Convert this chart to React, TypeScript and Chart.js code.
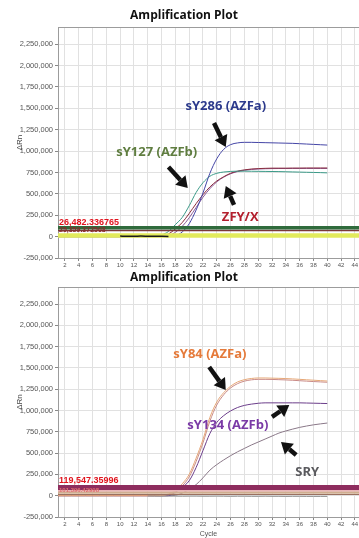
import React, { useEffect, useRef } from "react";
import { Chart, registerables } from "chart.js";

Chart.register(...registerables);

// ---------------- data ----------------
const cycles = [1, 2, 3, 4, 5, 6, 7, 8, 9, 10, 11, 12, 13, 14, 15, 16, 17, 18, 19, 20, 21, 22, 23, 24, 25, 26, 27, 28, 29, 30, 31, 32, 33, 34, 35, 36, 37, 38, 39, 40];
const xTickLabels = [2, 4, 6, 8, 10, 12, 14, 16, 18, 20, 22, 24, 26, 28, 30, 32, 34, 36, 38, 40, 42, 44];
const yTickLabels = [-250000, 0, 250000, 500000, 750000, 1000000, 1250000, 1500000, 1750000, 2000000, 2250000];
const xMin = 1;
const xMax = 44.6;
const yMin = -250000;
const yMax = 2450000;

// top plot (ΔRn per cycle)
const topSY286 = [0, 0, 0, 0, 0, 0, 0, 0, 0, 0, 0, 0, 0, 0, 0, 0, 2000, 10000, 55000, 150000, 310000, 510000, 740000, 910000, 1020000, 1075000, 1095000, 1102000, 1102000, 1100000, 1098000, 1096000, 1094000, 1092000, 1090000, 1086000, 1082000, 1078000, 1074000, 1070000];
const topSY127 = [0, 0, 0, 0, 0, 0, 0, 0, 0, 0, 0, 0, 0, 0, 5000, 20000, 60000, 140000, 225000, 360000, 515000, 630000, 705000, 740000, 755000, 762000, 765000, 765000, 764000, 763000, 762000, 761000, 760000, 758000, 756000, 754000, 752000, 750000, 748000, 745000];
const topZFY = [0, 0, 0, 0, 0, 0, 0, 0, 0, 0, 0, 0, 0, 0, 0, 5000, 30000, 90000, 165000, 270000, 385000, 490000, 580000, 650000, 700000, 740000, 765000, 780000, 790000, 795000, 798000, 800000, 800000, 800000, 801000, 801000, 802000, 802000, 802000, 802000];
const topZFX = [0, 0, 0, 0, 0, 0, 0, 0, 0, 0, 0, 0, 0, 0, 0, 0, 10000, 50000, 120000, 220000, 340000, 460000, 560000, 640000, 695000, 735000, 760000, 775000, 785000, 790000, 793000, 795000, 796000, 796000, 797000, 797000, 797000, 797000, 797000, 797000];
const topNegative = [null, null, null, null, null, null, null, null, null, 6000, 5000, 5000, 6000, 5000, 4000, 3000, 2000, null, null, null, null, null, null, null, null, null, null, null, null, null, null, null, null, null, null, null, null, null, null, null];
const topThresholds = [104000, 71000, 13000];
const topThresholdTexts = ["26,482.336765", "25,359.372568"];
const topThresholdTextValues = [165000, 71000];

const topLabels = ["sY286 (AZFa)", "sY127 (AZFb)", "ZFY/X"];
const topLabelCycles = [25.3, 15.3, 27.4];
const topLabelValues = [1526000, 989000, 229000];
const topArrowTailCycles = [23.6, 17.0, 26.5];
const topArrowTailValues = [1328000, 813000, 370000];
const topArrowHeadCycles = [25.3, 19.8, 25.3];
const topArrowHeadValues = [1047000, 568000, 592000];

// bottom plot (ΔRn per cycle)
const botSY84 = [0, 0, 0, 0, 0, 0, 0, 0, 0, 0, 0, 0, 0, 0, 0, 3000, 20000, 60000, 140000, 250000, 440000, 660000, 920000, 1100000, 1210000, 1285000, 1335000, 1362000, 1376000, 1382000, 1382000, 1380000, 1378000, 1375000, 1371000, 1366000, 1361000, 1356000, 1351000, 1346000];
const botSY84b = [0, 0, 0, 0, 0, 0, 0, 0, 0, 0, 0, 0, 0, 0, 0, 0, 12000, 45000, 115000, 220000, 400000, 620000, 875000, 1065000, 1185000, 1265000, 1315000, 1345000, 1360000, 1366000, 1366000, 1365000, 1362000, 1359000, 1355000, 1350000, 1345000, 1340000, 1336000, 1332000];
const botSY134 = [0, 0, 0, 0, 0, 0, 0, 0, 0, 0, 0, 0, 0, 0, 0, 0, 0, 40000, 100000, 175000, 330000, 530000, 730000, 860000, 940000, 995000, 1035000, 1060000, 1075000, 1085000, 1090000, 1090000, 1090000, 1090000, 1090000, 1090000, 1088000, 1086000, 1084000, 1082000];
const botSRY = [0, 0, 0, 0, 0, 0, 0, 0, 0, 0, 0, 0, 0, 0, 0, 0, 0, 5000, 30000, 75000, 130000, 210000, 300000, 365000, 420000, 470000, 515000, 555000, 595000, 630000, 665000, 700000, 735000, 760000, 782000, 802000, 818000, 832000, 843000, 853000];
const botNegative = [null, null, null, null, null, null, null, null, null, null, null, null, null, -3000, -4000, -5000, -4000, -5000, -6000, -5000, -5000, -6000, -6000, -5000, -6000, -7000, -6000, -6000, -7000, -7000, -6000, -7000, -7000, -8000, -7000, -7000, -8000, -8000, -8000, -8000];
const botThresholds = [96000, 64000, 38000, 14000];
const botThresholdTexts = ["119,547.35996", "101,396.42998"];
const botThresholdTextValues = [173000, 62000];

const botLabels = ["sY84 (AZFa)", "sY134 (AZFb)", "SRY"];
const botLabelCycles = [23.0, 25.6, 37.1];
const botLabelValues = [1663000, 831000, 278000];
const botArrowTailCycles = [22.9, 32.0, 35.5];
const botArrowTailValues = [1511000, 925000, 478000];
const botArrowHeadCycles = [25.3, 34.5, 33.3];
const botArrowHeadValues = [1241000, 1065000, 630000];

// ---------------- styles ----------------
const gridColor = "#e1e1e1";
const frameColor = "#9c9c9c";
const tickTextColor = "#555";
const titleText = "Amplification Plot";

type Overlay = {
  labels: string[]; labelCycles: number[]; labelValues: number[]; labelColors: string[];
  tailC: number[]; tailV: number[]; headC: number[]; headV: number[];
  thrTexts: string[]; thrValues: number[]; thrColors: string[]; thrSizes: number[];
};

function overlayPlugin(o: Overlay) {
  return {
    id: "overlay",
    afterDatasetsDraw(chart: any) {
      const { ctx, chartArea: a, scales } = chart;
      const x = scales.x;
      const y = scales.y;
      ctx.save();
      // top frame line
      ctx.strokeStyle = frameColor;
      ctx.lineWidth = 1;
      ctx.beginPath();
      ctx.moveTo(a.left, Math.round(a.top) + 0.5);
      ctx.lineTo(a.right, Math.round(a.top) + 0.5);
      ctx.stroke();
      // threshold value texts
      ctx.textAlign = "left";
      ctx.textBaseline = "middle";
      o.thrTexts.forEach((t, i) => {
        ctx.font = `bold ${o.thrSizes[i]}px "Liberation Sans", Arial, sans-serif`;
        ctx.fillStyle = o.thrColors[i];
        ctx.fillText(t, a.left + 1, y.getPixelForValue(o.thrValues[i]));
      });
      // arrows
      ctx.fillStyle = "#111";
      ctx.strokeStyle = "#111";
      o.tailC.forEach((_, i) => {
        const tx = x.getPixelForValue(o.tailC[i]);
        const ty = y.getPixelForValue(o.tailV[i]);
        const hx = x.getPixelForValue(o.headC[i]);
        const hy = y.getPixelForValue(o.headV[i]);
        const ang = Math.atan2(hy - ty, hx - tx);
        const L = 11;
        const W = 7;
        const bx = hx - L * Math.cos(ang);
        const by = hy - L * Math.sin(ang);
        ctx.lineWidth = 4.5;
        ctx.lineCap = "butt";
        ctx.beginPath();
        ctx.moveTo(tx, ty);
        ctx.lineTo(bx, by);
        ctx.stroke();
        ctx.beginPath();
        ctx.moveTo(hx, hy);
        ctx.lineTo(bx + W * Math.sin(ang), by - W * Math.cos(ang));
        ctx.lineTo(bx - W * Math.sin(ang), by + W * Math.cos(ang));
        ctx.closePath();
        ctx.fill();
      });
      // labels
      ctx.textAlign = "center";
      ctx.textBaseline = "middle";
      ctx.font = 'bold 13px "Open Sans", sans-serif';
      o.labels.forEach((t, i) => {
        ctx.fillStyle = o.labelColors[i];
        ctx.fillText(t, x.getPixelForValue(o.labelCycles[i]), y.getPixelForValue(o.labelValues[i]));
      });
      ctx.restore();
    },
  };
}

function curve(values: (number | null)[], color: string, order = 2, width = 1) {
  return {
    data: cycles.map((c, i) => ({ x: c, y: values[i] })),
    borderColor: color,
    borderWidth: width,
    pointRadius: 0,
    cubicInterpolationMode: "monotone" as const,
    fill: false,
    order,
  };
}

function threshold(v: number, color: string, width: number) {
  return {
    data: [{ x: xMin, y: v }, { x: xMax, y: v }],
    borderColor: color,
    borderWidth: width,
    pointRadius: 0,
    fill: false,
    order: 1,
  };
}

function buildConfig(datasets: any[], o: Overlay, p: { padTop: number; titlePad: { top: number; bottom: number }; xHeight: number; showCycle: boolean }) {
  return {
    type: "line" as const,
    data: { datasets },
    options: {
      animation: false as const,
      responsive: false,
      devicePixelRatio: 1,
      layout: { padding: { top: p.padTop, left: 9, right: 0, bottom: 0 } },
      plugins: {
        legend: { display: false },
        tooltip: { enabled: false },
        title: {
          display: true,
          text: titleText,
          color: "#111",
          font: { family: '"Open Sans", sans-serif', weight: "bold" as const, size: 12, lineHeight: 1.2 },
          padding: p.titlePad,
        },
      },
      scales: {
        x: {
          type: "linear" as const,
          min: xMin,
          max: xMax,
          afterBuildTicks: (s: any) => { s.ticks = xTickLabels.map((v) => ({ value: v })); },
          afterFit: (s: any) => { s.height = p.xHeight; s.paddingLeft = 0; s.paddingRight = 0; },
          ticks: {
            autoSkip: false, maxRotation: 0, padding: 1, color: tickTextColor,
            font: { family: '"Liberation Sans", Arial, sans-serif', size: 6 },
            callback: (v: any) => String(v),
          },
          grid: { color: gridColor, tickLength: 3, tickColor: "#888" },
          border: { color: frameColor },
          title: {
            display: p.showCycle, text: "Cycle", color: tickTextColor,
            font: { family: '"Liberation Sans", Arial, sans-serif', size: 7 },
            padding: { top: 0, bottom: 0 },
          },
        },
        y: {
          type: "linear" as const,
          min: yMin,
          max: yMax,
          afterBuildTicks: (s: any) => { s.ticks = yTickLabels.map((v) => ({ value: v })); },
          afterFit: (s: any) => { s.width = 49; s.paddingTop = 0; s.paddingBottom = 0; },
          ticks: {
            padding: 2, color: tickTextColor,
            font: { family: '"Liberation Sans", Arial, sans-serif', size: 7.5 },
            callback: (v: any) => Number(v).toLocaleString("en-US"),
          },
          grid: { color: gridColor, tickLength: 3, tickColor: "#888" },
          border: { color: frameColor },
          title: {
            display: true, text: "ΔRn", color: "#444",
            font: { family: '"Liberation Sans", Arial, sans-serif', size: 8 },
            padding: { top: 6, bottom: 0 },
          },
        },
      },
    },
    plugins: [overlayPlugin(o)],
  };
}

export default function App() {
  const topRef = useRef<HTMLCanvasElement>(null);
  const botRef = useRef<HTMLCanvasElement>(null);

  useEffect(() => {
    const topDatasets = [
      curve(topNegative, "#1a1a1a", 0, 1.5),
      threshold(topThresholds[0], "#2f6b3c", 3.5),
      threshold(topThresholds[1], "#7a3838", 1.5),
      threshold(topThresholds[2], "#e2ea5c", 4.5),
      curve(topSY286, "#4445a6"),
      curve(topSY127, "#3b9a88"),
      curve(topZFY, "#8a2c3e"),
      curve(topZFX, "#8a5a98"),
    ];
    const botDatasets = [
      threshold(botThresholds[0], "#8e2d5e", 5),
      threshold(botThresholds[1], "#e9b4b8", 2.5),
      threshold(botThresholds[2], "#cfae90", 2.5),
      threshold(botThresholds[3], "#9a7060", 1.2),
      curve(botNegative, "#8c8c8c"),
      curve(botSY84, "#e6a878"),
      curve(botSY84b, "#c98a86"),
      curve(botSY134, "#6b3d8a"),
      curve(botSRY, "#8a7888"),
    ];
    const c1 = new Chart(topRef.current!, buildConfig(topDatasets, {
      labels: topLabels, labelCycles: topLabelCycles, labelValues: topLabelValues,
      labelColors: ["#2c3a8c", "#5f7d40", "#b3202e"],
      tailC: topArrowTailCycles, tailV: topArrowTailValues, headC: topArrowHeadCycles, headV: topArrowHeadValues,
      thrTexts: topThresholdTexts, thrValues: topThresholdTextValues, thrColors: ["#e0141e", "#8a2a2a"], thrSizes: [9, 7],
    }, { padTop: 4.8, titlePad: { top: 4, bottom: 3.8 }, xHeight: 10, showCycle: false }) as any);
    const c2 = new Chart(botRef.current!, buildConfig(botDatasets, {
      labels: botLabels, labelCycles: botLabelCycles, labelValues: botLabelValues,
      labelColors: ["#e57a3a", "#7a3aa6", "#5a5a5e"],
      tailC: botArrowTailCycles, tailV: botArrowTailValues, headC: botArrowHeadCycles, headV: botArrowHeadValues,
      thrTexts: botThresholdTexts, thrValues: botThresholdTextValues, thrColors: ["#e0141e", "#e07070"], thrSizes: [9, 6],
    }, { padTop: 0, titlePad: { top: 2.4, bottom: 2.2 }, xHeight: 21, showCycle: true }) as any);
    return () => { c1.destroy(); c2.destroy(); };
  }, []);

  return (
    <div style={{ position: "absolute", left: 0, top: 0, width: 359, height: 538, background: "#fff", overflow: "hidden" }}>
      <canvas ref={topRef} width={359} height={268} style={{ display: "block", width: 359, height: 268 }} />
      <canvas ref={botRef} width={359} height={270} style={{ display: "block", width: 359, height: 270 }} />
    </div>
  );
}
